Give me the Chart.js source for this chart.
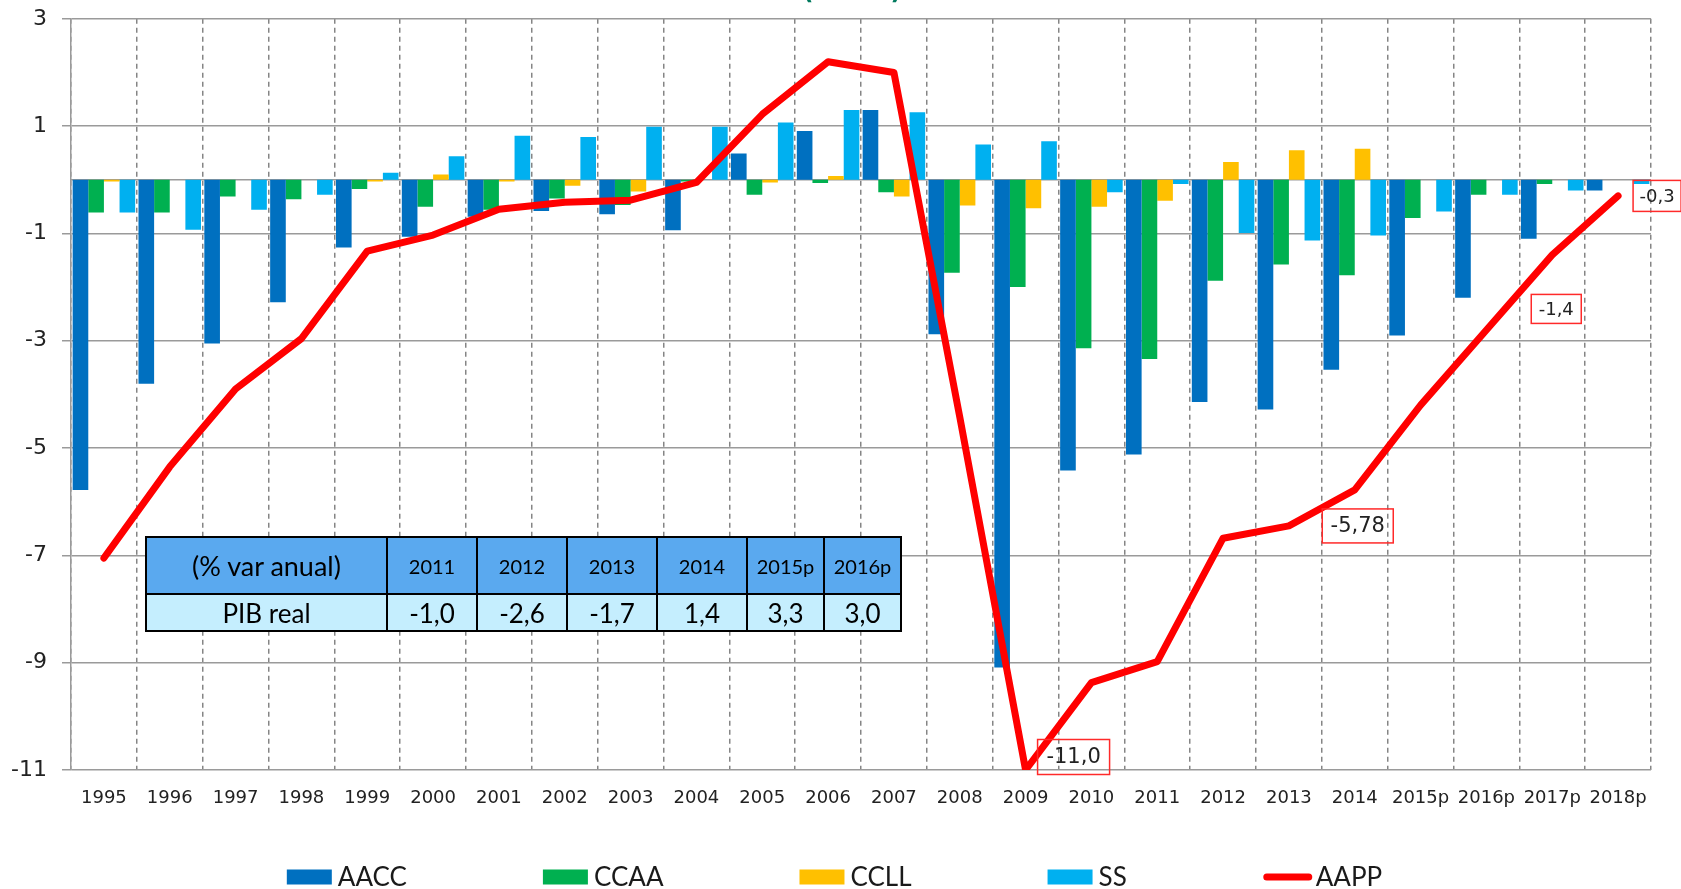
<!DOCTYPE html>
<html>
<head>
<meta charset="utf-8">
<script src="https://cdn.jsdelivr.net/npm/chart.js@4.4.1/dist/chart.umd.min.js"></script>
<style>
  html, body { margin: 0; padding: 0; background: #ffffff; overflow: hidden; }
  #wrap { position: relative; width: 1681px; height: 889px; }
  #chart { position: absolute; left: 0; top: 0; }
  #pibTable {
    position: absolute; left: 145px; top: 536px; width: 755px; height: 94px;
    border-collapse: collapse; font-family: Lato, "Open Sans", sans-serif; color: #000;
    table-layout: fixed;
  }
  #pibTable td { border: 2.5px solid #000; text-align: center; padding: 0; }
  #pibTable tr.head td { background: #5aa9ef; height: 55px; font-size: 20px; }
  #pibTable tr.head td.lbl { font-size: 27px; }
  #pibTable tr.body td { background: #c5eefe; height: 35px; font-size: 26px; }
</style>
</head>
<body>
<div id="wrap">
  <canvas id="chart" width="1681" height="889"></canvas>
  <table id="pibTable"></table>
</div>
<script>
// ---------------- DATA ----------------
const categories = ['1995','1996','1997','1998','1999','2000','2001','2002','2003','2004',
  '2005','2006','2007','2008','2009','2010','2011','2012','2013','2014',
  '2015p','2016p','2017p','2018p'];

const seriesNames = ['AACC', 'CCAA', 'CCLL', 'SS', 'AAPP'];

const AACC = [-5.78, -3.80, -3.05, -2.28, -1.26, -1.06, -0.69, -0.58, -0.64, -0.94,
  0.49, 0.91, 1.30, -2.88, -9.09, -5.42, -5.12, -4.14, -4.28, -3.54,
  -2.90, -2.20, -1.10, -0.20];
const CCAA = [-0.61, -0.61, -0.31, -0.36, -0.17, -0.50, -0.56, -0.35, -0.47, -0.03,
  -0.28, -0.06, -0.23, -1.73, -2.00, -3.14, -3.34, -1.88, -1.58, -1.78,
  -0.71, -0.28, -0.08, 0.00];
const CCLL = [-0.03, 0.00, 0.00, 0.00, -0.03, 0.10, -0.03, -0.11, -0.22, 0.00,
  -0.05, 0.07, -0.31, -0.48, -0.53, -0.50, -0.39, 0.33, 0.55, 0.58,
  0.00, 0.00, 0.00, 0.00];
const SS = [-0.61, -0.93, -0.56, -0.28, 0.13, 0.44, 0.82, 0.80, 0.99, 0.99,
  1.07, 1.30, 1.26, 0.66, 0.72, -0.23, -0.08, -0.99, -1.13, -1.04,
  -0.59, -0.28, -0.20, -0.08];
const AAPP = [-7.05, -5.35, -3.90, -2.96, -1.33, -1.03, -0.55, -0.42, -0.38, -0.05,
  1.22, 2.20, 2.00, -4.42, -11.00, -9.37, -8.98, -6.68, -6.45, -5.78,
  -4.20, -2.80, -1.40, -0.30];

const yTicks = [3, 1, -1, -3, -5, -7, -9, -11];

// labelled points of the AAPP line: index into categories, decimals shown
const labelIndex = [14, 19, 22, 23];
const labelDecimals = [1, 2, 1, 1];

// inset table
const tableHeader = '(% var anual)';
const tableYears = ['2011', '2012', '2013', '2014', '2015p', '2016p'];
const tableRowLabel = 'PIB real';
const tablePIB = [-1.0, -2.6, -1.7, 1.4, 3.3, 3.0];

const titleText = '(% PIB)';

// ---------------- STYLES ----------------
const colors = ['#0070c0', '#00b050', '#ffc000', '#00b0f0', '#ff0000'];
// label box placement relative to the point (style only)
const labelStyle = [
  { dx: 48, dy: -13, w: 72, h: 35, size: 21 },
  { dx: 3, dy: 36, w: 71, h: 34, size: 21 },
  { dx: 4, dy: 54, w: 50, h: 29, size: 18 },
  { dx: 39, dy: 0, w: 48, h: 31, size: 18 }
];

// ---------------- TABLE ----------------
(function buildTable() {
  const t = document.getElementById('pibTable');
  const widths = [241, 90, 90, 90, 90, 77, 77];
  let cg = '<colgroup>' + widths.map(w => '<col style="width:' + w + 'px">').join('') + '</colgroup>';
  let h = '<tr class="head"><td class="lbl">' + tableHeader + '</td>' +
    tableYears.map(y => '<td>' + y + '</td>').join('') + '</tr>';
  let b = '<tr class="body"><td>' + tableRowLabel + '</td>' +
    tablePIB.map(v => '<td>' + v.toFixed(1).replace('.', ',') + '</td>').join('') + '</tr>';
  t.innerHTML = cg + h + b;
})();

// ---------------- PLUGINS ----------------
const zeroLine = {
  id: 'zeroLine',
  beforeDatasetsDraw(chart) {
    const { ctx, chartArea, scales } = chart;
    const y = scales.y.getPixelForValue(0);
    ctx.save();
    ctx.strokeStyle = '#9a9a9a';
    ctx.lineWidth = 1.5;
    ctx.beginPath();
    ctx.moveTo(chartArea.left, y);
    ctx.lineTo(chartArea.right, y);
    ctx.stroke();
    ctx.restore();
  }
};

const pointLabels = {
  id: 'pointLabels',
  afterDatasetsDraw(chart) {
    const { ctx } = chart;
    const meta = chart.getDatasetMeta(4);
    ctx.save();
    labelIndex.forEach((idx, k) => {
      const pt = meta.data[idx];
      const st = labelStyle[k];
      const cx = pt.x + st.dx, cy = pt.y + st.dy;
      ctx.strokeStyle = '#ff2a2a';
      ctx.lineWidth = 1.5;
      ctx.strokeRect(cx - st.w / 2, cy - st.h / 2, st.w, st.h);
      ctx.fillStyle = '#222';
      ctx.font = st.size + 'px "DejaVu Sans"';
      ctx.textAlign = 'center';
      ctx.textBaseline = 'middle';
      const txt = AAPP[idx].toFixed(labelDecimals[k]).replace('.', ',');
      ctx.fillText(txt, cx, cy + 1);
    });
    ctx.restore();
  }
};

const customLegend = {
  id: 'customLegend',
  afterDraw(chart) {
    const { ctx } = chart;
    const ds = chart.data.datasets;
    ctx.save();
    ctx.font = '26px Lato';
    const gap = 136;
    const items = ds.map(d => {
      const tw = ctx.measureText(d.label).width;
      const isLine = d.type === 'line';
      const sw = isLine ? 50 : 45;
      const sp = isLine ? 3 : 6;
      return { d, tw, sw, sp, isLine, w: sw + sp + tw };
    });
    const total = items.reduce((a, it) => a + it.w, 0) + gap * (items.length - 1);
    let x = chart.width / 2 - 6 - total / 2;
    const yc = 877;
    items.forEach(it => {
      if (it.isLine) {
        ctx.strokeStyle = it.d.borderColor;
        ctx.lineWidth = 7;
        ctx.lineCap = 'round';
        ctx.beginPath();
        ctx.moveTo(x + 4, yc);
        ctx.lineTo(x + it.sw - 4, yc);
        ctx.stroke();
      } else {
        ctx.fillStyle = it.d.backgroundColor;
        ctx.fillRect(x, yc - 7.5, it.sw, 15);
      }
      ctx.fillStyle = '#1a1a1a';
      ctx.textAlign = 'left';
      ctx.textBaseline = 'middle';
      ctx.fillText(it.d.label, x + it.sw + it.sp, yc + 1);
      x += it.w + gap;
    });
    ctx.restore();
  }
};

const peekTitle = {
  id: 'peekTitle',
  afterDraw(chart) {
    const { ctx } = chart;
    ctx.save();
    ctx.font = 'bold 24px "DejaVu Sans"';
    ctx.fillStyle = '#007a5e';
    ctx.textAlign = 'center';
    ctx.textBaseline = 'alphabetic';
    ctx.fillText(titleText, 852, -1);
    ctx.restore();
  }
};

// ---------------- CHART ----------------
const barSeries = [AACC, CCAA, CCLL, SS];
const datasets = [];
barSeries.forEach((arr, i) => {
  datasets.push({
    type: 'bar',
    label: seriesNames[i],
    data: arr,
    backgroundColor: colors[i],
    borderWidth: 0,
    categoryPercentage: 0.95,
    barPercentage: 1.0,
    order: 2
  });
});
datasets.push({
  type: 'line',
  label: seriesNames[4],
  data: AAPP,
  borderColor: colors[4],
  backgroundColor: colors[4],
  borderWidth: 7,
  pointRadius: 0,
  tension: 0,
  borderJoinStyle: 'round',
  borderCapStyle: 'round',
  fill: false,
  order: 1
});

new Chart(document.getElementById('chart'), {
  type: 'bar',
  data: { labels: categories, datasets },
  options: {
    responsive: false,
    animation: false,
    devicePixelRatio: 1,
    layout: { padding: { left: 0, right: 30, top: 0, bottom: 0 } },
    plugins: {
      legend: { display: false },
      title: { display: false },
      tooltip: { enabled: false }
    },
    scales: {
      x: {
        offset: true,
        grid: {
          offset: true,
          color: '#858585',
          lineWidth: 1.5,
          drawTicks: false
        },
        border: { display: false, dash: [5, 4] },
        ticks: {
          color: '#222',
          font: { family: 'DejaVu Sans', size: 18 },
          padding: 18,
          maxRotation: 0,
          autoSkip: false
        },
        afterFit(scale) { scale.height = 119; }
      },
      y: {
        min: yTicks[yTicks.length - 1],
        max: yTicks[0],
        afterBuildTicks(scale) { scale.ticks = yTicks.map(v => ({ value: v })); },
        grid: {
          color: '#9a9a9a',
          lineWidth: 1.5,
          drawTicks: true,
          tickLength: 9
        },
        border: { display: true, color: '#9a9a9a', width: 1.5 },
        ticks: {
          color: '#222',
          font: { family: 'DejaVu Sans', size: 22, lineHeight: 0.35 },
          padding: 15,
          callback: v => String(v)
        },
        afterFit(scale) { scale.width = 71; }
      }
    }
  },
  plugins: [zeroLine, pointLabels, customLegend, peekTitle]
});
</script>
</body>
</html>
